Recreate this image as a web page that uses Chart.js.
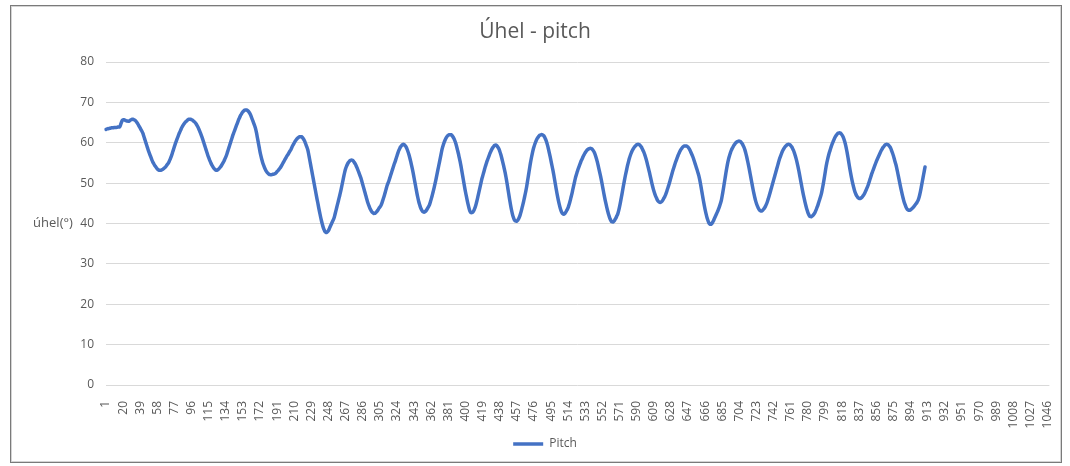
<!DOCTYPE html>
<html lang="cs">
<head>
<meta charset="utf-8">
<title>Úhel - pitch</title>
<script src="https://cdn.jsdelivr.net/npm/chart.js@4.4.1/dist/chart.umd.min.js"></script>
<style>
  html, body { margin: 0; padding: 0; background: #ffffff; }
  #wrap { position: relative; width: 1070px; height: 466px; overflow: hidden; }
  #chart { position: absolute; left: 0; top: 0; }
  #frame {
    position: absolute; left: 10px; top: 5px; width: 1050px; height: 456px;
    border: 1px solid #7a7a7a; box-shadow: inset 0 0 0 1px #d4d4d4;
    pointer-events: none;
  }
</style>
</head>
<body>
<div id="wrap">
  <canvas id="chart" width="1070" height="466"></canvas>
  <div id="frame"></div>
</div>
<script>
// Sample count on the category axis and the spacing of the printed tick labels
const CATEGORY_COUNT = 1048;
const TICK_EVERY = 19;
const categories = Array.from({ length: CATEGORY_COUNT }, (_, i) => String(i + 1));

const chartTitle = 'Úhel - pitch';
const yAxisTitle = 'úhel(°)';
const seriesName = 'Pitch';
const yTicks = [0, 10, 20, 30, 40, 50, 60, 70, 80];

// Pitch angle in degrees, one value per sample
const pitch = [
  63.3,63.4,63.5,63.5,63.6,63.6,63.7,63.7,63.7,63.8,63.8,63.8,63.8,63.9,63.9,63.9,64.3,
  65.0,65.5,65.7,65.7,65.6,65.5,65.4,65.4,65.3,65.4,65.6,65.7,65.8,65.8,65.7,65.6,65.4,65.1,
  64.8,64.4,64.0,63.6,63.2,62.8,62.3,61.6,60.9,60.2,59.5,58.8,58.1,57.5,56.9,56.3,55.7,55.2,54.8,54.4,54.1,53.8,53.5,53.3,53.2,53.2,53.2,53.3,53.4,53.6,53.8,
  54.0,54.3,54.6,54.9,55.3,55.8,56.4,57.0,57.7,58.4,59.1,59.8,60.4,61.0,61.6,62.2,62.7,63.2,63.7,64.1,64.5,64.8,65.1,65.3,65.5,65.7,65.8,65.8,65.8,65.7,65.6,65.4,65.2,65.0,
  64.7,64.3,63.9,63.4,62.9,62.3,61.7,61.1,60.4,59.7,59.0,58.3,57.6,56.9,56.3,55.7,55.2,54.7,54.3,53.9,53.6,53.4,53.2,53.2,53.3,53.5,53.7,54.0,
  54.3,54.7,55.1,55.5,56.0,56.5,57.1,57.8,58.5,59.2,59.9,60.6,61.3,62.0,62.6,63.2,63.8,64.4,65.0,65.6,66.1,66.6,67.0,67.4,67.7,67.9,68.1,68.1,68.1,68.0,67.8,67.5,67.1,
  66.6,66.0,65.4,64.8,64.2,63.5,62.5,61.3,60.1,58.9,57.7,56.7,55.8,55.0,54.4,53.8,53.3,52.9,52.6,52.4,52.2,52.1,52.1,52.1,52.2,52.2,52.3,52.4,52.6,
  52.9,53.1,53.4,53.7,54.0,54.4,54.8,55.2,55.6,56.0,56.4,56.8,57.1,57.5,57.9,58.2,58.7,59.2,59.6,60.0,60.4,60.7,61.0,61.2,61.4,61.5,61.5,61.5,61.3,61.0,60.6,
  60.1,59.5,58.9,58.2,57.1,55.9,54.7,53.5,52.3,51.1,49.9,48.7,47.5,46.3,45.2,44.0,42.9,41.8,40.8,39.9,39.1,38.5,38.0,37.8,37.8,38.0,38.3,38.8,
  39.3,39.8,40.3,40.8,41.3,42.1,43.0,43.9,44.8,45.7,46.6,47.5,48.5,49.6,50.7,51.8,52.8,53.6,54.2,54.7,55.1,55.4,55.6,55.7,55.7,55.6,55.3,55.0,54.6,
  54.1,53.6,53.0,52.4,51.8,51.2,50.4,49.6,48.8,48.0,47.2,46.4,45.6,44.9,44.3,43.7,43.3,42.9,42.7,42.5,42.5,42.6,42.8,43.1,43.4,
  43.8,44.1,44.4,44.9,45.6,46.3,47.0,47.8,48.6,49.4,50.0,50.6,51.3,52.0,52.7,53.4,54.1,54.8,55.4,56.1,56.8,57.5,58.1,58.6,59.0,59.3,59.5,59.6,59.5,59.3,59.0,58.5,
  57.9,57.2,56.4,55.5,54.5,53.5,52.4,51.2,50.0,48.8,47.6,46.5,45.5,44.7,44.0,43.5,43.1,42.9,42.8,42.9,43.1,43.4,43.8,44.2,44.6,
  45.3,46.1,46.9,47.8,48.7,49.7,50.7,51.8,52.9,54.0,55.1,56.2,57.3,58.4,59.2,59.9,60.5,61.0,61.4,61.7,61.9,62.0,62.0,62.0,61.8,61.5,61.1,60.6,60.0,
  59.2,58.3,57.4,56.4,55.4,54.2,52.9,51.6,50.3,49.0,47.8,46.7,45.6,44.6,43.7,43.0,42.7,42.7,42.8,43.1,43.6,44.2,
  45.0,45.9,46.9,47.9,48.9,49.9,50.9,51.7,52.5,53.3,54.1,54.8,55.5,56.1,56.7,57.3,57.8,58.3,58.7,59.0,59.3,59.4,59.4,59.2,58.9,58.5,57.9,
  57.2,56.4,55.5,54.6,53.6,52.6,51.4,50.1,48.7,47.3,45.9,44.6,43.4,42.4,41.6,41.0,40.7,40.6,40.6,40.8,41.2,41.7,42.4,43.2,
  44.1,45.0,46.0,47.0,48.1,49.3,50.7,52.1,53.5,54.9,56.1,57.2,58.2,59.0,59.7,60.3,60.8,61.2,61.5,61.8,61.9,62.0,62.0,61.9,61.7,61.3,60.8,60.2,59.4,
  58.5,57.5,56.5,55.4,54.3,53.2,52.0,50.7,49.4,48.1,46.9,45.8,44.8,43.9,43.2,42.7,42.4,42.3,42.4,42.7,43.1,43.5,
  44.0,44.7,45.5,46.4,47.3,48.3,49.3,50.3,51.3,52.1,52.8,53.5,54.1,54.7,55.3,55.8,56.3,56.8,57.2,57.6,57.9,58.2,58.4,58.5,58.6,58.6,58.5,58.3,58.0,57.6,57.0,
  56.3,55.5,54.6,53.6,52.6,51.6,50.5,49.3,48.1,46.9,45.8,44.8,43.8,42.9,42.1,41.4,40.9,40.5,40.4,40.4,40.6,41.0,41.4,41.9,42.4,
  43.2,44.2,45.3,46.5,47.7,49.0,50.2,51.4,52.5,53.5,54.5,55.4,56.2,56.9,57.5,58.0,58.4,58.8,59.1,59.3,59.5,59.6,59.6,59.5,59.3,59.0,58.6,58.1,57.6,
  57.0,56.3,55.5,54.6,53.7,52.8,51.8,50.8,49.8,48.9,48.1,47.4,46.8,46.3,45.8,45.5,45.3,45.2,45.3,45.5,45.8,46.2,46.6,47.1,
  47.7,48.4,49.1,49.8,50.6,51.4,52.2,53.0,53.7,54.4,55.1,55.7,56.3,56.9,57.4,57.9,58.3,58.6,58.9,59.1,59.2,59.2,59.2,59.1,58.9,58.6,58.2,57.7,57.2,56.7,
  56.1,55.4,54.7,54.0,53.3,52.6,51.8,50.8,49.6,48.3,47.0,45.7,44.5,43.4,42.4,41.5,40.8,40.2,39.9,39.8,39.9,40.2,40.6,41.1,41.6,42.1,
  42.6,43.1,43.7,44.3,45.0,45.8,47.0,48.3,49.7,51.1,52.5,53.8,55.0,56.0,56.8,57.5,58.1,58.6,59.0,59.4,59.7,60.0,60.2,60.3,60.4,60.4,60.3,60.1,59.8,59.4,58.9,58.3,
  57.5,56.6,55.6,54.5,53.4,52.2,51.0,49.8,48.6,47.5,46.5,45.6,44.9,44.3,43.8,43.4,43.2,43.1,43.1,43.3,43.6,43.9,44.3,44.8,
  45.4,46.1,46.8,47.6,48.4,49.2,50.0,50.8,51.6,52.4,53.2,54.0,54.8,55.6,56.3,56.9,57.5,58.0,58.4,58.8,59.1,59.3,59.5,59.6,59.6,59.5,59.3,59.0,58.6,58.1,57.5,
  56.8,56.0,55.1,54.1,53.0,51.8,50.6,49.4,48.2,47.1,46.1,45.1,44.2,43.4,42.7,42.2,41.8,41.7,41.7,41.9,42.1,42.4,
  42.8,43.3,43.9,44.5,45.2,45.9,46.6,47.4,48.5,49.7,51.0,52.4,53.8,55.0,56.0,56.9,57.7,58.4,59.1,59.7,60.3,60.8,61.3,61.7,62.0,62.3,62.4,62.5,62.4,62.2,61.9,61.5,60.9,
  60.2,59.3,58.2,57.0,55.7,54.3,53.0,51.8,50.7,49.7,48.8,48.0,47.4,46.9,46.6,46.3,46.2,46.2,46.3,46.5,46.8,47.1,47.5,
  48.0,48.5,49.0,49.6,50.3,51.0,51.7,52.4,53.0,53.6,54.2,54.8,55.4,55.9,56.4,56.9,57.4,57.9,58.3,58.7,59.0,59.3,59.5,59.6,59.6,59.5,59.3,59.0,58.6,58.0,
  57.4,56.7,55.9,55.1,54.3,53.3,52.2,51.1,50.0,48.9,47.9,46.9,46.0,45.2,44.6,44.0,43.6,43.4,43.3,43.3,43.4,43.6,43.8,44.0,
  44.3,44.6,44.9,45.2,45.6,46.2,47.0,48.0,49.2,50.4,51.6,52.8,54.0
];

const TEXT_GREY = '#595959';
const FONT = "'Open Sans', 'Liberation Sans', sans-serif";
Chart.defaults.font.family = FONT;

// Chart heading and the horizontal (unrotated) value-axis title
const headingPlugin = {
  id: 'heading',
  afterDraw(chart) {
    const { ctx, chartArea } = chart;
    ctx.save();
    ctx.fillStyle = TEXT_GREY;
    ctx.textAlign = 'center';
    ctx.textBaseline = 'middle';
    ctx.font = '21px ' + FONT;
    ctx.fillText(chartTitle, chart.width / 2, 32);
    ctx.font = '13px ' + FONT;
    ctx.fillText(yAxisTitle, 53, (chartArea.top + chartArea.bottom) / 2);
    ctx.restore();
  }
};

new Chart(document.getElementById('chart'), {
  type: 'line',
  data: {
    labels: categories,
    datasets: [{
      label: seriesName,
      data: pitch,
      borderColor: '#4472C4',
      backgroundColor: '#4472C4',
      borderWidth: 3.5,
      pointRadius: 0,
      pointHoverRadius: 0,
      tension: 0.3,
      fill: false,
      borderJoinStyle: 'round',
      borderCapStyle: 'round'
    }]
  },
  options: {
    responsive: false,
    animation: false,
    devicePixelRatio: 1,
    events: [],
    layout: { padding: { left: 40, right: 20, top: 62, bottom: 6 } },
    plugins: {
      title: { display: false },
      legend: {
        position: 'bottom',
        labels: {
          usePointStyle: true,
          pointStyle: 'line',
          pointStyleWidth: 30,
          color: TEXT_GREY,
          font: { family: FONT, size: 12 },
          padding: 10
        }
      },
      tooltip: { enabled: false }
    },
    scales: {
      x: {
        type: 'category',
        offset: false,
        grid: { display: false },
        border: { display: false },
        ticks: {
          autoSkip: false,
          maxRotation: 90,
          minRotation: 90,
          padding: 8,
          color: TEXT_GREY,
          font: { family: FONT, size: 12 },
          callback(value, index) {
            return index % TICK_EVERY === 0 ? categories[index] : null;
          }
        },
        afterFit(scale) { scale.height = 43; }
      },
      y: {
        min: yTicks[0],
        max: yTicks[yTicks.length - 1],
        afterBuildTicks(scale) { scale.ticks = yTicks.map(v => ({ value: v })); },
        grid: { color: '#d9d9d9', lineWidth: 1, drawTicks: false },
        border: { display: false },
        ticks: {
          padding: 12,
          color: TEXT_GREY,
          font: { family: FONT, size: 12 }
        },
        afterFit(scale) { scale.width = 66; }
      }
    }
  },
  plugins: [headingPlugin]
});
</script>
</body>
</html>
